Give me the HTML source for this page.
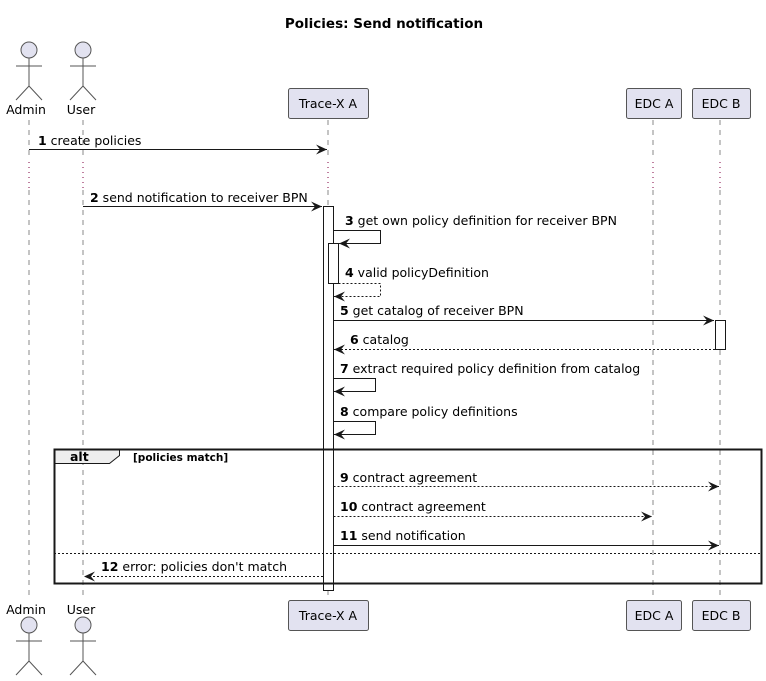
<!DOCTYPE html>
<html><head><meta charset="utf-8"><style>body{margin:0;background:#fff}svg{display:block}text{font-family:"DejaVu Sans","Liberation Sans",sans-serif;font-size:12.5px;fill:#000}</style></head><body>
<svg width="766" height="681" viewBox="0 0 766 681" xmlns="http://www.w3.org/2000/svg">
<defs>
<marker id="a" markerWidth="12" markerHeight="10" refX="11" refY="5" orient="auto" markerUnits="userSpaceOnUse"><path d="M0,0 L11,5 L0,10 L4,5 Z" fill="#181818"/></marker>
</defs>
<text x="384" y="28" text-anchor="middle" style="font-weight:bold;font-size:13.5px">Policies: Send notification</text>
<g stroke="#888" stroke-dasharray="5,5" stroke-width="1">
<line x1="29" y1="120" x2="29" y2="160"/><line x1="29" y1="190" x2="29" y2="598"/>
<line x1="83" y1="120" x2="83" y2="160"/><line x1="83" y1="190" x2="83" y2="598"/>
<line x1="328" y1="120" x2="328" y2="160"/><line x1="328" y1="190" x2="328" y2="598"/>
<line x1="653" y1="120" x2="653" y2="160"/><line x1="653" y1="190" x2="653" y2="598"/>
<line x1="720" y1="120" x2="720" y2="160"/><line x1="720" y1="190" x2="720" y2="598"/>
</g>
<g stroke="#800040" stroke-dasharray="1,4"><line x1="29" y1="162" x2="29" y2="190"/><line x1="83" y1="162" x2="83" y2="190"/><line x1="328" y1="162" x2="328" y2="190"/><line x1="653" y1="162" x2="653" y2="190"/><line x1="720" y1="162" x2="720" y2="190"/></g>
<g fill="#e2e2f0" stroke="#555" stroke-width="1">
<circle cx="29" cy="50" r="8"/><circle cx="83" cy="50" r="8"/>
<circle cx="29" cy="625" r="8"/><circle cx="83" cy="625" r="8"/>
</g>
<g stroke="#555" fill="none">
<path d="M29 58V86M16 66H42M16 100L29 86L42 100"/>
<path d="M83 58V86M70 66H96M70 100L83 86L96 100"/>
<path d="M29 633V661M16 641H42M16 675L29 661L42 675"/>
<path d="M83 633V661M70 641H96M70 675L83 661L96 675"/>
</g>
<g style="font-size:13.5px" text-anchor="middle">
<text x="26" y="114">Admin</text><text x="81" y="114">User</text>
<text x="26" y="614">Admin</text><text x="81" y="614">User</text>
</g>
<g fill="#e2e2f0" stroke="#555" stroke-width="1">
<rect x="288.5" y="88.5" width="80" height="30" rx="2"/><rect x="626.5" y="88.5" width="55" height="30" rx="2"/><rect x="692.5" y="88.5" width="58" height="30" rx="2"/>
<rect x="288.5" y="600.5" width="80" height="30" rx="2"/><rect x="626.5" y="600.5" width="55" height="30" rx="2"/><rect x="692.5" y="600.5" width="58" height="30" rx="2"/>
</g>
<g style="font-size:13.5px" text-anchor="middle">
<text x="328" y="108">Trace-X A</text><text x="654" y="108">EDC A</text><text x="721" y="108">EDC B</text>
<text x="328" y="620">Trace-X A</text><text x="654" y="620">EDC A</text><text x="721" y="620">EDC B</text>
</g>
<rect x="323.5" y="206.5" width="10" height="384" fill="#fff" stroke="#181818"/>
<rect x="328.5" y="243.5" width="10" height="40" fill="#fff" stroke="#181818"/>
<rect x="715.5" y="320.5" width="10" height="29" fill="#fff" stroke="#181818"/>
<g stroke="#181818" fill="none" stroke-width="1">
<line x1="29" y1="149.5" x2="327" y2="149.5" marker-end="url(#a)"/>
<line x1="83" y1="206.5" x2="322" y2="206.5" marker-end="url(#a)"/>
<polyline points="333.5,230.5 380.5,230.5 380.5,243.5 339,243.5" marker-end="url(#a)"/>
<polyline points="338.5,283.5 380.5,283.5 380.5,296.5 334,296.5" stroke-dasharray="2,2" marker-end="url(#a)"/>
<line x1="333.5" y1="320.5" x2="714" y2="320.5" marker-end="url(#a)"/>
<line x1="715" y1="349.5" x2="334" y2="349.5" stroke-dasharray="2,2" marker-end="url(#a)"/>
<polyline points="333.5,378.5 375.5,378.5 375.5,391.5 334,391.5" marker-end="url(#a)"/>
<polyline points="333.5,421.5 375.5,421.5 375.5,434.5 334,434.5" marker-end="url(#a)"/>
<line x1="333.5" y1="486.5" x2="719" y2="486.5" stroke-dasharray="2,2" marker-end="url(#a)"/>
<line x1="333.5" y1="516.5" x2="652" y2="516.5" stroke-dasharray="2,2" marker-end="url(#a)"/>
<line x1="333.5" y1="545.5" x2="719" y2="545.5" marker-end="url(#a)"/>
<line x1="323" y1="576.5" x2="84" y2="576.5" stroke-dasharray="2,2" marker-end="url(#a)"/>
</g>
<text x="38" y="145"><tspan font-weight="bold">1</tspan> create policies</text>
<text x="90" y="202"><tspan font-weight="bold">2</tspan> send notification to receiver BPN</text>
<text x="345" y="225"><tspan font-weight="bold">3</tspan> get own policy definition for receiver BPN</text>
<text x="345" y="277"><tspan font-weight="bold">4</tspan> valid policyDefinition</text>
<text x="340" y="315"><tspan font-weight="bold">5</tspan> get catalog of receiver BPN</text>
<text x="350" y="344"><tspan font-weight="bold">6</tspan> catalog</text>
<text x="340" y="373"><tspan font-weight="bold">7</tspan> extract required policy definition from catalog</text>
<text x="340" y="416"><tspan font-weight="bold">8</tspan> compare policy definitions</text>
<text x="340" y="482"><tspan font-weight="bold">9</tspan> contract agreement</text>
<text x="340" y="511"><tspan font-weight="bold">10</tspan> contract agreement</text>
<text x="340" y="540"><tspan font-weight="bold">11</tspan> send notification</text>
<text x="101" y="571"><tspan font-weight="bold">12</tspan> error: policies don't match</text>
<path d="M54.5 449.5H119.5V455.5L109.5 463.5H54.5Z" fill="#eee" stroke="#181818"/>
<rect x="54.5" y="449.5" width="707" height="134" fill="none" stroke="#181818" stroke-width="2"/>
<line x1="54" y1="553.5" x2="762" y2="553.5" stroke="#181818" stroke-dasharray="2,2"/>
<text x="70" y="461" style="font-weight:bold">alt</text>
<text x="133" y="461" style="font-weight:bold;font-size:10.5px">[policies match]</text>
</svg>
</body></html>
